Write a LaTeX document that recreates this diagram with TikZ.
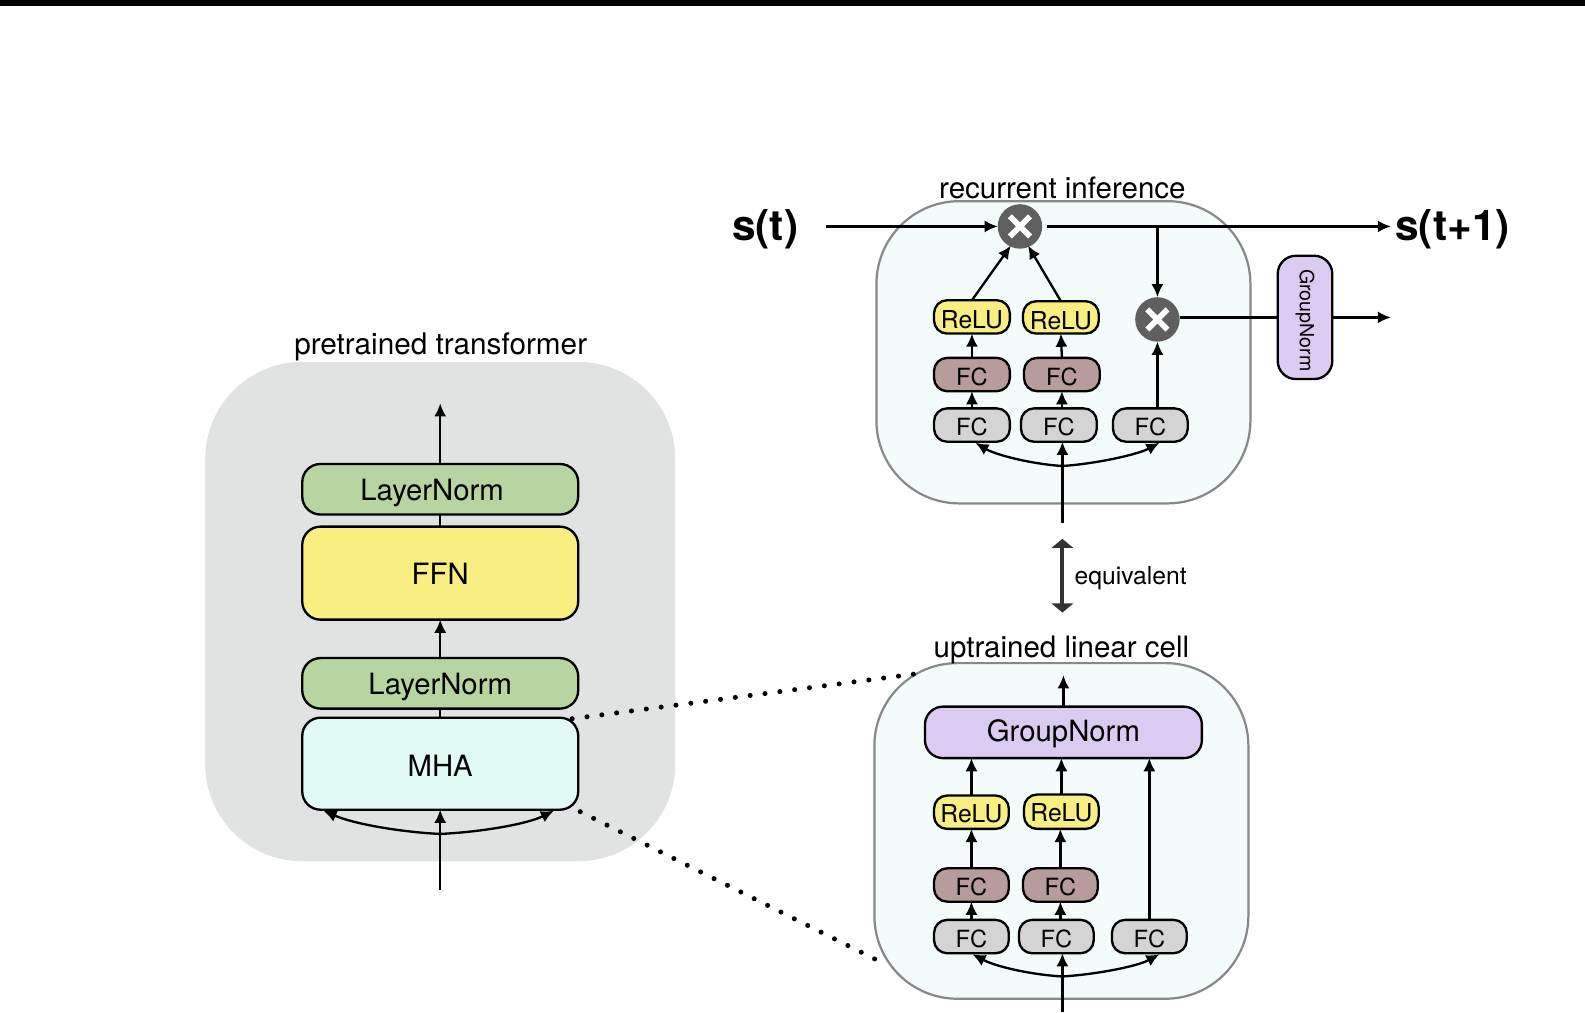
\documentclass[tikz,border=0pt]{standalone}
\usepackage{fontspec}
\setmainfont{TeX Gyre Heros}
\usetikzlibrary{arrows.meta,calc}
\definecolor{cpanelgray}{HTML}{E1E2E2}
\definecolor{cpanelcyan}{HTML}{F3FCFB}
\definecolor{cpanelline}{HTML}{888888}
\definecolor{cgreen}{HTML}{B7D5A0}
\definecolor{cyellow}{HTML}{F9EE82}
\definecolor{ccyan}{HTML}{E1FAF6}
\definecolor{cbrown}{HTML}{B89B9B}
\definecolor{cgrayfc}{HTML}{D4D4D4}
\definecolor{cpurple}{HTML}{DCCBF0}
\definecolor{cmult}{HTML}{5F5F5F}
\tikzset{
  textdrop/.style={text height={2*#1*1pt},text depth=0pt},
  box/.style={draw=black,line width=1.15pt,rounded corners=6.5pt,inner sep=0pt,outer sep=0pt,align=center},
  bigtext/.style={font=\fontsize{14.5}{16}\selectfont},
  smalltext/.style={font=\fontsize{11.7}{13}\selectfont},
  layernorm/.style={box,bigtext,fill=cgreen,rounded corners=9pt,textdrop=5.7},
  ffn/.style={box,bigtext,fill=cyellow,rounded corners=9pt,textdrop=5.7},
  mha/.style={box,bigtext,fill=ccyan,rounded corners=9pt,textdrop=6.2},
  groupnorm/.style={box,bigtext,fill=cpurple,rounded corners=9pt,textdrop=4.7},
  relu/.style={box,font=\fontsize{12.2}{13}\selectfont,fill=cyellow,textdrop=4.9},
  fcbrown/.style={box,smalltext,fill=cbrown,textdrop=5.2},
  fcgray/.style={box,smalltext,fill=cgrayfc,textdrop=5.2},
  panel/.style={inner sep=0pt,outer sep=0pt},
  grouppanel/.style={panel,fill=cpanelgray,rounded corners=48pt},
  cyanpanel/.style={panel,draw=cpanelline,line width=1.1pt,fill=cpanelcyan,rounded corners=41pt},
  paneltitle/.style={inner sep=0pt,font=\fontsize{14.6}{16}\selectfont},
  statelabel/.style={inner sep=0pt,font=\fontsize{21}{24}\selectfont\bfseries},
  multnode/.style={circle,fill=cmult,minimum size=22pt,inner sep=0pt,outer sep=0pt,
    path picture={\draw[white,line width=2.8pt]
      ($(path picture bounding box.center)+(-10,-10)$) -- ($(path picture bounding box.center)+(10,10)$)
      ($(path picture bounding box.center)+(-10,10)$) -- ($(path picture bounding box.center)+(10,-10)$);}},
  conn/.style={draw=black,line width=1.15pt,-{Latex[length=6.5pt,width=6pt]}},
  plainconn/.style={draw=black,line width=1.15pt},
  equiv/.style={draw=black!80,line width=1.9pt,{Triangle[length=4.5pt,width=10.5pt]}-{Triangle[length=4.5pt,width=10.5pt]}},
  zoomdots/.style={draw=black,line width=2.5pt,line cap=round,dash pattern=on 0pt off 7.4pt},
}
\newcommand{\bx}[7]{\node[#2,minimum width={(#5-#3)*0.5pt},minimum height={(#6-#4)*0.5pt}] (#1) at ({(#3+#5)/2},{(#4+#6)/2}) {#7};}
\begin{document}
\begin{tikzpicture}[x=0.5pt,y=-0.5pt]
\useasboundingbox (0,0) rectangle (1568,1002);
\fill[black] (0,0) rectangle (1568,6);

% panels
\bx{leftpanel}{grouppanel}{203}{358}{668}{852}{}
\bx{toppanel}{cyanpanel}{867}{199}{1237}{498}{}
\bx{botpanel}{cyanpanel}{865}{656}{1235}{988}{}
\node[paneltitle,font=\fontsize{14.7}{17}\selectfont] (titleL) at (436,343) {pretrained transformer};
\node[paneltitle] (titleT) at (1051,186) {recurrent inference};
\node[paneltitle] (titleB) at (1050,643) {uptrained linear cell};

% left stack
\bx{lnA}{layernorm}{299}{459}{572}{509}{LayerNorm\hspace*{8pt}}
\bx{ffnA}{ffn}{299}{521}{572}{613}{FFN}
\bx{lnB}{layernorm}{299}{651}{572}{701}{LayerNorm}
\bx{mhaA}{mha}{299}{710}{572}{801}{MHA}
\coordinate (lOut) at (435.5,399);
\coordinate (lIn) at (435.5,880);
\coordinate (lFan) at (435.5,825);
\coordinate (lTipL) at (320,802);
\coordinate (lTipR) at (548,802);
\draw[conn] (lnA.north) -- (lOut);
\draw[plainconn] (ffnA.north) -- (lnA.south);
\draw[conn] (lnB.north) -- (ffnA.south);
\draw[plainconn] (mhaA.north) -- (lnB.south);
\draw[conn] (lIn) -- (mhaA.south);
\draw[conn] (lFan) .. controls (395,823) and (350,815) .. (lTipL);
\draw[conn] (lFan) .. controls (477,823) and (522,815) .. (lTipR);

% top cell
\node[multnode] (m1) at (1009,224) {};
\node[multnode] (m2) at (1145,316) {};
\bx{tR1}{relu,textdrop=5.9}{924}{297}{999}{330}{ReLU}
\bx{tR2}{relu,textdrop=5.9}{1012}{298}{1087}{330}{ReLU}
\bx{tB1}{fcbrown}{924}{354}{999}{387}{FC}
\bx{tB2}{fcbrown}{1013}{354}{1088}{387}{FC}
\bx{tG1}{fcgray}{924}{404}{999}{437}{FC}
\bx{tG2}{fcgray}{1010}{404}{1085}{437}{FC}
\bx{tG3}{fcgray}{1101}{404}{1175}{437}{FC}
\bx{gnS}{box,fill=cpurple,rounded corners=9pt}{1264}{253}{1318}{375}{}
\node[inner sep=0pt,rotate=-90,font=\fontsize{9.7}{11}\selectfont] (gnSt) at (1291,317) {GroupNorm};
\node[statelabel] (st) at (757,227) {s(t)};
\node[statelabel] (st1) at (1437,227) {s(t+1)};
\coordinate (tIn) at (817,224);
\coordinate (tStart) at (1036,224);
\coordinate (tOut) at (1376,224);
\coordinate (tSplit) at (1145,224);
\coordinate (gnOut) at (1376,314);
\coordinate (gnL) at (1264,314);
\coordinate (gnR) at (1318,314);
\coordinate (m1a) at (1000,243);
\coordinate (m1b) at (1017,243);
\coordinate (tBot) at (1051,517);
\coordinate (tFan) at (1051,461);
\coordinate (tTipL) at (965,438);
\coordinate (tTipR) at (1147,438);
\draw[conn] (tIn) -- (m1.west);
\draw[conn] (tStart) -- (tOut);
\draw[conn] (tSplit) -- (m2.north);
\draw[conn] (tR1.north) -- (m1a);
\draw[conn] (tR2.north) -- (m1b);
\draw[conn] (tB1.north) -- (tR1.south);
\draw[conn] (tB2.north) -- (tR2.south);
\draw[conn] (tB1.south |- tG1.north) -- (tB1.south);
\draw[conn] (tB2.south |- tG2.north) -- (tB2.south);
\draw[conn] (m2.south |- tG3.north) -- (m2.south);
\draw[plainconn] (gnL -| m2.east) -- (gnL);
\draw[conn] (gnR) -- (gnOut);
\draw[conn] (tBot) -- (tBot |- tG2.south);
\draw[conn] (tFan) .. controls (1020,459) and (985,450) .. (tTipL);
\draw[conn] (tFan) .. controls (1082,459) and (1125,450) .. (tTipR);

% equivalent
\coordinate (eqA) at (1051,533);
\coordinate (eqB) at (1051,606);
\draw[equiv] (eqA) -- (eqB);
\node[inner sep=0pt,font=\fontsize{12.2}{14}\selectfont] (eqL) at (1118.5,571.5) {equivalent};

% bottom cell
\bx{bGN}{groupnorm}{915}{699}{1189}{750}{GroupNorm}
\bx{bR1}{relu}{924}{787}{998}{820}{ReLU}
\bx{bR2}{relu}{1013}{786}{1087}{820}{ReLU}
\bx{bB1}{fcbrown}{924}{859}{998}{892}{FC}
\bx{bB2}{fcbrown}{1012}{859}{1086}{892}{FC}
\bx{bG1}{fcgray}{924}{910}{998}{943}{FC}
\bx{bG2}{fcgray}{1008}{910}{1082}{943}{FC}
\bx{bG3}{fcgray}{1100}{910}{1174}{943}{FC}
\coordinate (bOut) at (1052,668);
\coordinate (bBot) at (1051,1001);
\coordinate (bFan) at (1051,966);
\coordinate (bTipL) at (962,944);
\coordinate (bTipR) at (1147,944);
\draw[conn] (bGN.north) -- (bOut);
\draw[conn] (bR1.north) -- (bR1.north |- bGN.south);
\draw[conn] (bR2.north) -- (bR2.north |- bGN.south);
\draw[conn] (bG3.north) -- (bG3.north |- bGN.south);
\draw[conn] (bB1.north) -- (bR1.south);
\draw[conn] (bB2.north) -- (bB2.north |- bR2.south);
\draw[conn] (bB1.south |- bG1.north) -- (bB1.south);
\draw[conn] (bB2.south |- bG2.north) -- (bB2.south);
\draw[conn] (bBot) -- (bBot |- bG2.south);
\draw[conn] (bFan) .. controls (1018,964) and (985,956) .. (bTipL);
\draw[conn] (bFan) .. controls (1084,964) and (1125,956) .. (bTipR);

% zoom dots
\coordinate (dA) at (566,711);
\coordinate (dB) at (906,666.6);
\coordinate (dC) at (574,803);
\coordinate (dD) at (868,950);
\draw[zoomdots] (dA) -- (dB);
\draw[zoomdots] (dC) -- (dD);
\end{tikzpicture}
\end{document}
